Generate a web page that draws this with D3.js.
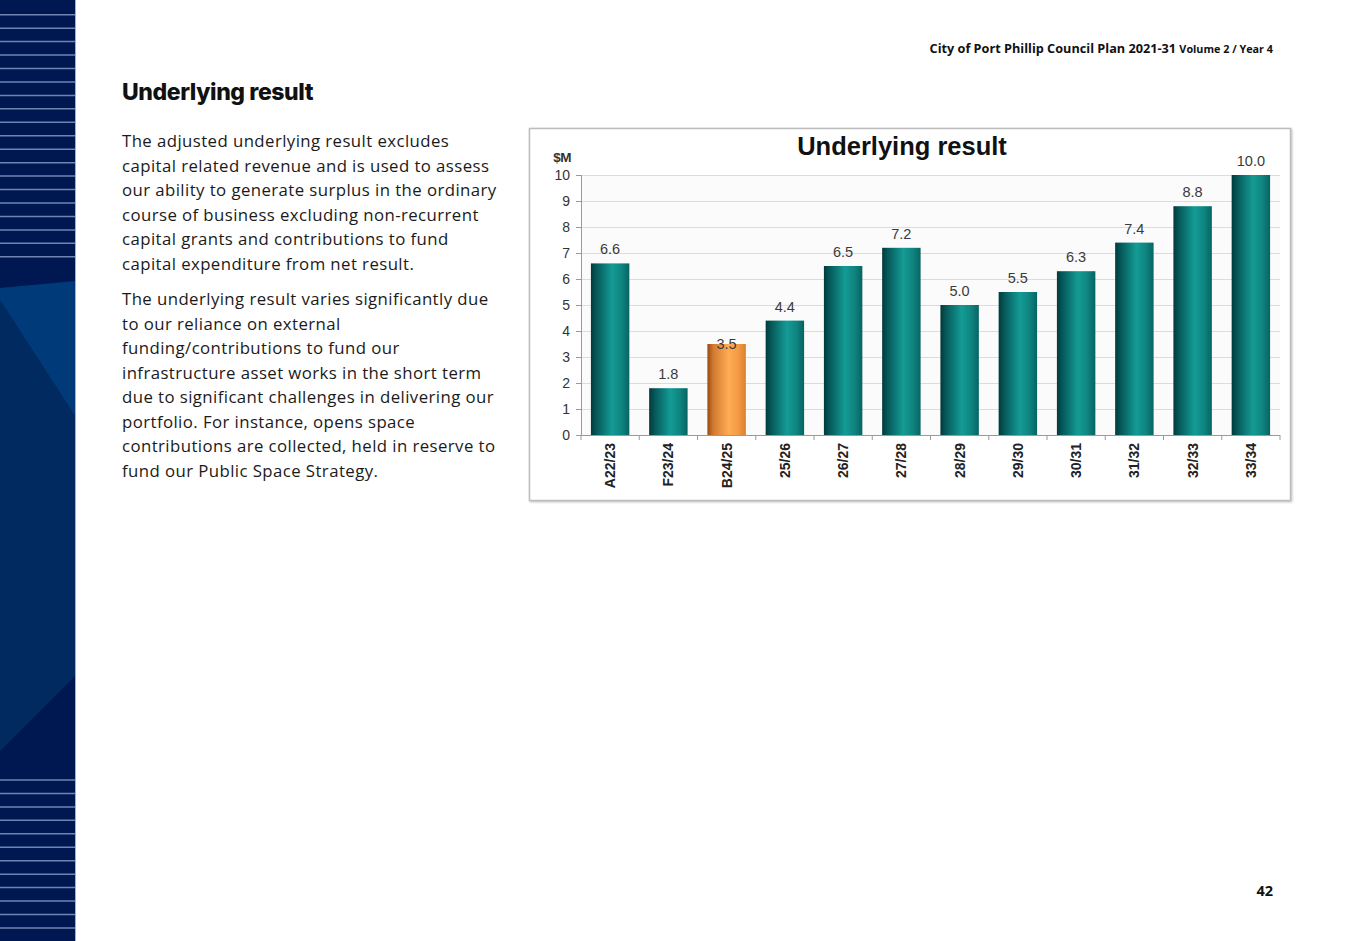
<!DOCTYPE html>
<html><head><meta charset="utf-8">
<script src="https://cdn.jsdelivr.net/npm/d3@7"></script>
<style>
html,body{margin:0;padding:0;background:#fff;}
svg{display:block;}
</style></head>
<body>
<svg id="page" width="1347" height="941"></svg>
<script>
// ---- data ----
const categories = ["A22/23","F23/24","B24/25","25/26","26/27","27/28","28/29","29/30","30/31","31/32","32/33","33/34"];
const values = [6.6, 1.8, 3.5, 4.4, 6.5, 7.2, 5.0, 5.5, 6.3, 7.4, 8.8, 10.0];
const highlight = ["B24/25"];
const yTicks = [0,1,2,3,4,5,6,7,8,9,10];
const chartTitle = "Underlying result";
const yUnit = "$M";
const pageTitle = "Underlying result";
const para1 = ["The adjusted underlying result excludes","capital related revenue and is used to assess","our ability to generate surplus in the ordinary","course of business excluding non-recurrent","capital grants and contributions to fund","capital expenditure from net result."];
const para2 = ["The underlying result varies significantly due","to our reliance on external","funding/contributions to fund our","infrastructure asset works in the short term","due to significant challenges in delivering our","portfolio. For instance, opens space","contributions are collected, held in reserve to","fund our Public Space Strategy."];

const svg = d3.select("#page");
const defs = svg.append("defs");

// ---- sidebar ----
const side = svg.append("g");
side.append("rect").attr("x",0).attr("y",0).attr("width",75).attr("height",941).attr("fill","#001852");
side.append("polygon").attr("points","0,300 75,416 75,676 0,751").attr("fill","#002a60");
side.append("polygon").attr("points","0,288 75,281 75,416 0,300").attr("fill","#003a78");
const stripeY = d3.range(19).map(i=>14.7+i*13.45).concat(d3.range(12).map(i=>780+i*13.45));
side.selectAll("line.s").data(stripeY).join("line").attr("class","s")
  .attr("x1",0).attr("x2",75).attr("y1",d=>d).attr("y2",d=>d)
  .attr("stroke","#7084b2").attr("stroke-width",1.5);
side.append("line").attr("x1",75.5).attr("x2",75.5).attr("y1",0).attr("y2",941).attr("stroke","#9fb0d4").attr("stroke-width",1);

// ---- header ----
const hdr = svg.append("text").attr("x",1273).attr("y",53).attr("text-anchor","end")
  .attr("font-family","'Open Sans', sans-serif").attr("font-weight","bold").attr("fill","#111");
hdr.append("tspan").attr("font-size",12.7).text("City of Port Phillip Council Plan 2021-31 ");
hdr.append("tspan").attr("font-size",10.8).text("Volume 2 / Year 4");

svg.append("text").attr("x",1273).attr("y",896).attr("text-anchor","end")
  .attr("font-family","'Open Sans', sans-serif").attr("font-weight","bold").attr("font-size",14.5).attr("fill","#111").text("42");

// ---- left text ----
svg.append("text").attr("x",122).attr("y",100).attr("font-family","Inter, 'Open Sans', sans-serif")
  .attr("font-weight","800").attr("font-size",23).attr("letter-spacing",-0.4).attr("fill","#111").text(pageTitle);
const bodyFont = "'Open Sans', sans-serif";
function para(lines, y0){
  svg.append("g").selectAll("text").data(lines).join("text")
    .attr("x",122).attr("y",(d,i)=>y0+i*24.55).attr("font-family",bodyFont)
    .attr("font-size",16.8).attr("letter-spacing",0.42).attr("fill","#1a1a1a").text(d=>d);
}
para(para1,147);
para(para2,305);

// ---- chart box ----
defs.append("filter").attr("id","sh").html('<feDropShadow dx="1" dy="1" stdDeviation="0.8" flood-color="#999" flood-opacity="0.6"/>');
svg.append("rect").attr("x",529.5).attr("y",128.5).attr("width",761).attr("height",372)
  .attr("fill","#fff").attr("stroke","#bdbdbd").attr("stroke-width",1.5).attr("filter","url(#sh)");

svg.append("text").attr("x",902).attr("y",155).attr("text-anchor","middle")
  .attr("font-family","'Liberation Sans', Arial, sans-serif").attr("font-weight","bold").attr("font-size",25.5).attr("fill","#111").text(chartTitle);

const x = d3.scaleBand().domain(categories).range([581,1280]).paddingInner(0.34).paddingOuter(0.17);
const y = d3.scaleLinear().domain([0,10]).range([435,175]);

const plot = svg.append("g");
plot.append("rect").attr("x",581).attr("y",175).attr("width",699).attr("height",260).attr("fill","#fbfbfb");
plot.append("g").selectAll("line").data(yTicks.filter(d=>d>0)).join("line")
  .attr("x1",581).attr("x2",1280).attr("y1",d=>y(d)+0.5).attr("y2",d=>y(d)+0.5)
  .attr("stroke","#dcdcdc").attr("stroke-width",1);

// gradients
function grad(id, stops){
  const g = defs.append("linearGradient").attr("id",id).attr("x1","0").attr("x2","1").attr("y1","0").attr("y2","0");
  stops.forEach(s=>g.append("stop").attr("offset",s[0]).attr("stop-color",s[1]));
}
grad("gTeal",[[0,"#023a3a"],[0.15,"#06595a"],[0.55,"#149b95"],[0.8,"#0f8480"],[1,"#076462"]]);
grad("gOrange",[[0,"#9a4a10"],[0.15,"#d07a30"],[0.55,"#ffac55"],[0.8,"#f49a45"],[1,"#d9802f"]]);

const bars = plot.append("g");
bars.selectAll("rect").data(categories).join("rect")
  .attr("x",d=>x(d)).attr("width",x.bandwidth())
  .attr("y",(d,i)=>y(values[i])).attr("height",(d,i)=>y(0)-y(values[i]))
  .attr("fill",d=>highlight.includes(d)?"url(#gOrange)":"url(#gTeal)");

// value labels
plot.append("g").selectAll("text").data(categories).join("text")
  .attr("x",d=>x(d)+x.bandwidth()/2)
  .attr("y",(d,i)=>highlight.includes(d)? y(values[i])+5 : y(values[i])-9)
  .attr("text-anchor","middle").attr("font-family","'Liberation Sans', Arial, sans-serif")
  .attr("font-size",14.5).attr("fill","#3a3a3a")
  .text((d,i)=>values[i].toFixed(1));

// y axis
const yAxis = svg.append("g").attr("transform","translate(581,0)")
  .call(d3.axisLeft(y).tickValues(yTicks).tickSize(5).tickPadding(6).tickFormat(d3.format("d")));
yAxis.select(".domain").attr("stroke","#9a9a9a").attr("d","M0.5,175V435.5");
yAxis.selectAll(".tick line").attr("stroke","#9a9a9a");
yAxis.selectAll("text").attr("font-family","'Liberation Sans', Arial, sans-serif").attr("font-size",14).attr("fill","#333");
svg.append("text").attr("x",562).attr("y",162).attr("text-anchor","middle")
  .attr("font-family","'Liberation Sans', Arial, sans-serif").attr("font-weight","bold").attr("font-size",13.5).attr("letter-spacing",-0.6).attr("fill","#333").text(yUnit);

// x axis
const xAxis = svg.append("g").attr("transform","translate(0,435)").call(d3.axisBottom(x).tickSize(0).tickFormat(""));
xAxis.select(".domain").attr("stroke","#9a9a9a").attr("d","M581,0.5H1280");
const bounds = d3.range(categories.length+1).map(i=>581 + i*(699/categories.length));
xAxis.selectAll("line.b").data(bounds).join("line").attr("class","b")
  .attr("x1",d=>d).attr("x2",d=>d).attr("y1",0).attr("y2",5).attr("stroke","#9a9a9a");
xAxis.selectAll("text.lab").data(categories).join("text").attr("class","lab")
  .attr("transform",d=>`translate(${x(d)+x.bandwidth()/2+5},8) rotate(-90)`)
  .attr("text-anchor","end").attr("font-family","'Liberation Sans', Arial, sans-serif")
  .attr("font-weight","bold").attr("font-size",14).attr("fill","#222").text(d=>d);
</script>
</body></html>
